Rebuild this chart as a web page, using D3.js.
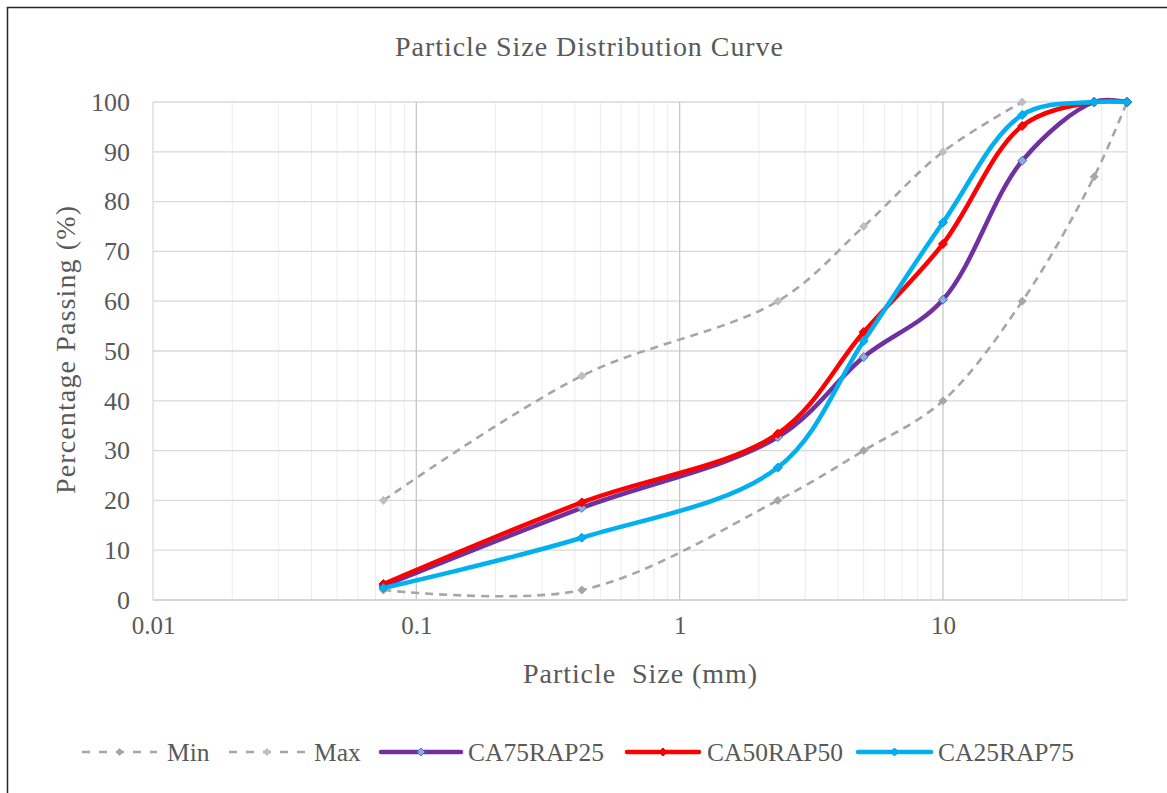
<!DOCTYPE html>
<html>
<head>
<meta charset="utf-8">
<script src="https://cdn.jsdelivr.net/npm/d3@7"></script>
<style>
  html, body { margin: 0; padding: 0; background: #fff; }
  svg { display: block; }
</style>
</head>
<body>
<div id="chart"></div>
<script>
// sieve sizes (mm)
const sizes = [0.075, 0.425, 2.36, 5, 10, 20, 37.5, 50];

// percentage passing per series (null = no point)
const minVals = [2, 2, 20, 30, 40, 60, 85, 100];
const maxVals = [20, 45, 60, 75, 90, 100, null, null];
const ca75rap25 = [2.8, 18.5, 32.7, 48.8, 60.3, 88.2, 100, 100];
const ca50rap50 = [3.2, 19.6, 33.4, 53.8, 71.5, 95.2, 100, 100];
const ca25rap75 = [2.4, 12.5, 26.6, 52.0, 75.8, 97.4, 100, 100];

const seriesNames = ['Min', 'Max', 'CA75RAP25', 'CA50RAP50', 'CA25RAP75'];
const xTicks = [0.01, 0.1, 1, 10];
const yTicks = [0, 10, 20, 30, 40, 50, 60, 70, 80, 90, 100];

const FONT = '"Liberation Serif", "Times New Roman", Times, "DejaVu Serif", serif';

const series = [
  { name: seriesNames[0], values: minVals, color: '#A6A6A6', width: 2.6, dash: '8,6', mfill: '#A6A6A6', mstroke: '#A6A6A6', msize: 4 },
  { name: seriesNames[1], values: maxVals, color: '#A6A6A6', width: 2.6, dash: '8,6', mfill: '#BFBFBF', mstroke: '#BFBFBF', msize: 4 },
  { name: seriesNames[2], values: ca75rap25, color: '#7030A0', width: 4.5, dash: null, mfill: '#8FAADC', mstroke: '#4472C4', msize: 4.5 },
  { name: seriesNames[3], values: ca50rap50, color: '#FF0000', width: 4.5, dash: null, mfill: '#FF0000', mstroke: '#E00000', msize: 4.5 },
  { name: seriesNames[4], values: ca25rap75, color: '#00B0F0', width: 4.5, dash: null, mfill: '#00B0F0', mstroke: '#00A0E0', msize: 4.5 }
];

const W = 1167, H = 793;
const plot = { left: 153, right: 1127, top: 102, bottom: 600 };

const svg = d3.select('#chart').append('svg')
  .attr('width', W).attr('height', H)
  .attr('font-family', FONT);

svg.append('rect').attr('width', W).attr('height', H).attr('fill', '#fff');

// outer chart border (only top/left visible, rest is cropped)
svg.append('rect')
  .attr('x', 7.5).attr('y', 7.5)
  .attr('width', W + 20).attr('height', H + 20)
  .attr('fill', 'none').attr('stroke', '#262626').attr('stroke-width', 1.5);

const x = d3.scaleLog().domain([0.01, 50]).range([plot.left, plot.right]);
const y = d3.scaleLinear().domain([0, 100]).range([plot.bottom, plot.top]);

// minor vertical gridlines
const minor = [];
[0.01, 0.1, 1, 10].forEach(d => {
  for (let k = 2; k <= 9; k++) {
    const v = d * k;
    if (v < 50) minor.push(v);
  }
});
svg.append('g').selectAll('line').data(minor).join('line')
  .attr('x1', d => x(d)).attr('x2', d => x(d))
  .attr('y1', plot.top).attr('y2', plot.bottom)
  .attr('stroke', '#EDEDED').attr('stroke-width', 1);

// horizontal gridlines
svg.append('g').selectAll('line').data(yTicks).join('line')
  .attr('x1', plot.left).attr('x2', plot.right)
  .attr('y1', d => y(d)).attr('y2', d => y(d))
  .attr('stroke', '#D9D9D9').attr('stroke-width', 1.3);

// major vertical gridlines
svg.append('g').selectAll('line').data(xTicks.slice(1)).join('line')
  .attr('x1', d => x(d)).attr('x2', d => x(d))
  .attr('y1', plot.top).attr('y2', plot.bottom)
  .attr('stroke', '#C8C8C8').attr('stroke-width', 1.3);

// plot frame edges
svg.append('line')
  .attr('x1', plot.left).attr('x2', plot.left).attr('y1', plot.top).attr('y2', plot.bottom)
  .attr('stroke', '#D9D9D9').attr('stroke-width', 1.3);
svg.append('line')
  .attr('x1', plot.right).attr('x2', plot.right).attr('y1', plot.top).attr('y2', plot.bottom)
  .attr('stroke', '#E3E3E3').attr('stroke-width', 1.3);
svg.append('line')
  .attr('x1', plot.left).attr('x2', plot.right).attr('y1', plot.bottom).attr('y2', plot.bottom)
  .attr('stroke', '#D0D0D0').attr('stroke-width', 1.5);

// Y axis
const yAxis = svg.append('g')
  .attr('transform', `translate(${plot.left},0)`)
  .call(d3.axisLeft(y).tickValues(yTicks).tickSize(0).tickPadding(23));
yAxis.select('.domain').remove();
yAxis.attr('font-family', FONT).attr('font-size', 26);
yAxis.selectAll('text').attr('fill', '#595959');

// X axis
const xAxis = svg.append('g')
  .attr('transform', `translate(0,${plot.bottom})`)
  .call(d3.axisBottom(x).tickValues(xTicks).tickFormat(d => String(d)).tickSize(0).tickPadding(16));
xAxis.select('.domain').remove();
xAxis.attr('font-family', FONT).attr('font-size', 25);
xAxis.selectAll('text').attr('fill', '#595959');

// titles
svg.append('text')
  .attr('x', 589).attr('y', 56)
  .attr('text-anchor', 'middle')
  .attr('font-size', 28)
  .attr('textLength', 388)
  .attr('fill', '#595959')
  .text('Particle Size Distribution Curve');

svg.append('text')
  .attr('x', 640).attr('y', 683)
  .attr('text-anchor', 'middle')
  .attr('font-size', 28)
  .attr('textLength', 234)
  .attr('fill', '#595959')
  .attr('xml:space', 'preserve')
  .style('white-space', 'pre')
  .text('Particle  Size (mm)');

svg.append('text')
  .attr('transform', 'translate(75,350) rotate(-90)')
  .attr('text-anchor', 'middle')
  .attr('font-size', 28)
  .attr('textLength', 288)
  .attr('fill', '#595959')
  .text('Percentage Passing (%)');

// lines (smoothed, like the spreadsheet's smooth lines)
const line = d3.line()
  .x(d => x(d.x)).y(d => y(d.y))
  .curve(d3.curveCatmullRom.alpha(0.5));

const diamond = (cx, cy, r) => `M${cx},${cy - r}L${cx + r},${cy}L${cx},${cy + r}L${cx - r},${cy}Z`;

series.forEach(s => {
  const pts = sizes.map((sz, i) => ({ x: sz, y: s.values[i] })).filter(d => d.y != null);
  const g = svg.append('g');
  g.append('path')
    .datum(pts)
    .attr('d', line)
    .attr('fill', 'none')
    .attr('stroke', s.color)
    .attr('stroke-width', s.width)
    .attr('stroke-linecap', s.dash ? 'butt' : 'round')
    .attr('stroke-dasharray', s.dash);
  g.selectAll('path.m').data(pts).join('path')
    .attr('class', 'm')
    .attr('d', d => diamond(x(d.x), y(d.y), s.msize))
    .attr('fill', s.mfill)
    .attr('stroke', s.mstroke)
    .attr('stroke-width', 1);
});

// legend
const legendItems = [
  { x0: 82, x1: 157, tx: 167 },
  { x0: 229, x1: 305, tx: 314 },
  { x0: 381, x1: 461, tx: 468 },
  { x0: 627, x1: 699, tx: 707 },
  { x0: 858, x1: 931, tx: 938 }
];
const ly = 752;
series.forEach((s, i) => {
  const it = legendItems[i];
  const g = svg.append('g');
  g.append('line')
    .attr('x1', it.x0).attr('x2', it.x1).attr('y1', ly).attr('y2', ly)
    .attr('stroke', s.color)
    .attr('stroke-width', s.dash ? 2.6 : 4.5)
    .attr('stroke-linecap', s.dash ? 'butt' : 'round')
    .attr('stroke-dasharray', s.dash ? '8,9' : null);
  const mx = (it.x0 + it.x1) / 2;
  g.append('path')
    .attr('d', diamond(mx, ly, s.msize - 0.5))
    .attr('fill', s.mfill)
    .attr('stroke', s.mstroke)
    .attr('stroke-width', 1);
  g.append('text')
    .attr('x', it.tx).attr('y', ly + 9)
    .attr('font-size', 25.5)
    .attr('fill', '#595959')
    .text(s.name);
});
</script>
</body>
</html>
